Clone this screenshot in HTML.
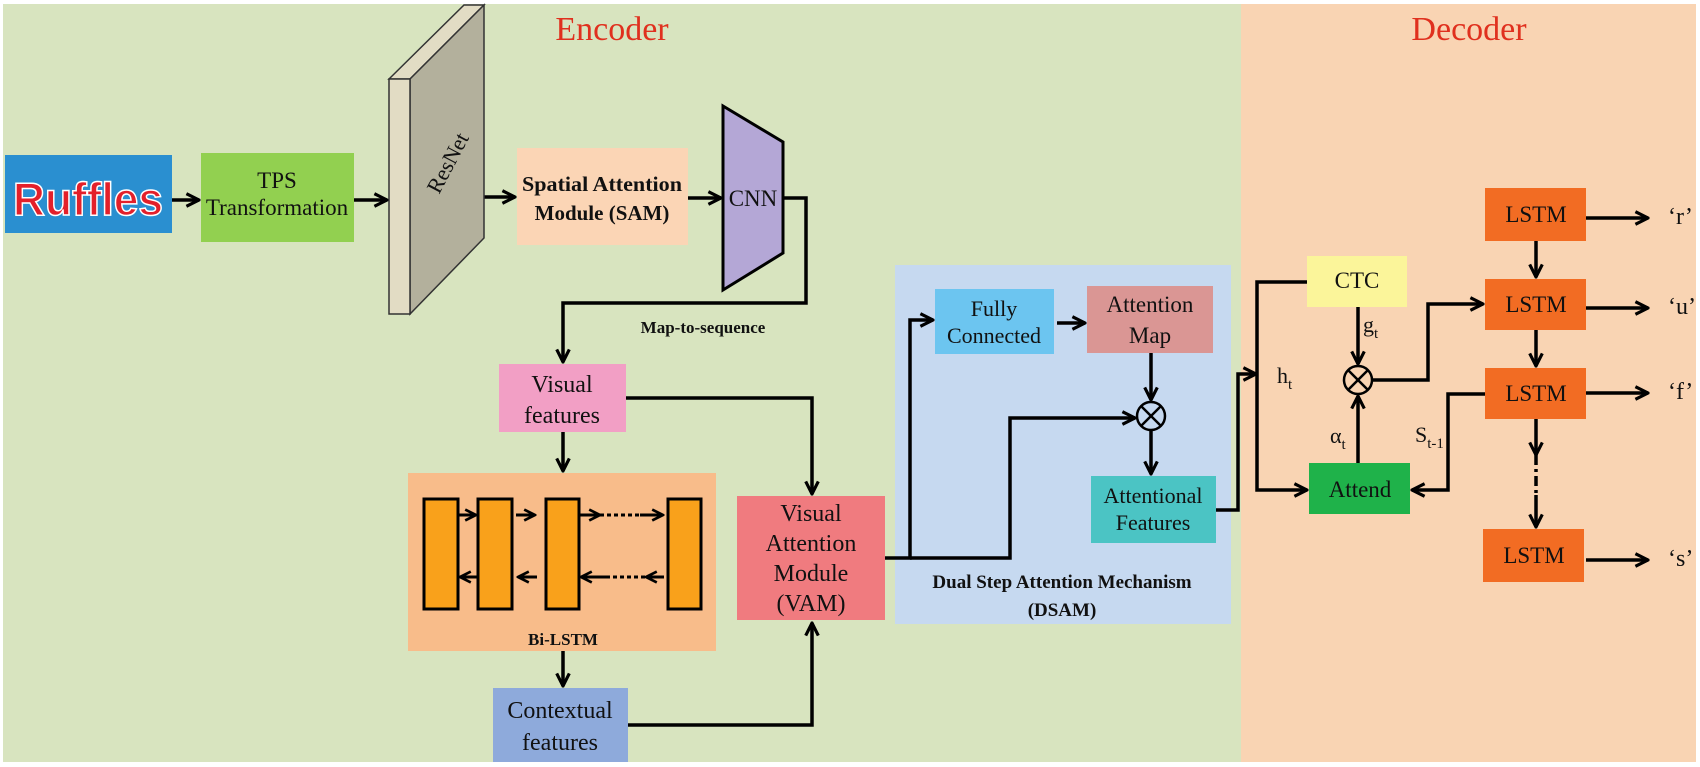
<!DOCTYPE html>
<html><head><meta charset="utf-8"><style>
html,body{margin:0;padding:0;background:#fff}
svg{display:block}
text{font-family:"Liberation Serif",serif;fill:#111}
</style></head><body>
<svg width="1700" height="767" viewBox="0 0 1700 767" xmlns="http://www.w3.org/2000/svg">
<defs>
<marker id="a" viewBox="0 0 10 10" refX="9" refY="5" markerWidth="4.5" markerHeight="4.5" orient="auto-start-reverse"><path d="M1,1 L9,5 L1,9" fill="none" stroke="#000" stroke-width="2"/></marker>
</defs>
<rect x="0" y="0" width="1700" height="767" fill="#fff"/>
<rect x="3" y="4" width="1239" height="758" fill="#d8e4bf"/>
<rect x="1241" y="4" width="455" height="758" fill="#f9d4b3"/>
<text x="612" y="40" font-size="34" text-anchor="middle" style="fill:#e0301e">Encoder</text>
<text x="1469" y="40" font-size="34" text-anchor="middle" style="fill:#e0301e">Decoder</text>

<!-- Ruffles -->
<rect x="5" y="155" width="167" height="78" fill="#2a8fd0"/>
<text x="88" y="215" font-size="46" font-weight="bold" text-anchor="middle" textLength="150" lengthAdjust="spacingAndGlyphs" style="fill:#e3202a;stroke:#fff;stroke-width:1.5;font-family:'Liberation Sans',sans-serif">Ruffles</text>

<!-- DSAM background first -->
<rect x="895" y="265" width="336" height="359" fill="#c6d9f0"/>

<g stroke="#000" stroke-width="3.5" fill="none" marker-end="url(#a)">
<line x1="172" y1="200" x2="199" y2="200"/>
<line x1="354" y1="200" x2="387" y2="200"/>
<line x1="484" y1="197" x2="515" y2="197"/>
<line x1="688" y1="198" x2="721" y2="198"/>
<polyline points="783,198 806,198 806,303 563,303 563,362"/>
<polyline points="626,398 812,398 812,494"/>
<line x1="563" y1="432" x2="563" y2="471"/>
<line x1="563" y1="651" x2="563" y2="686"/>
<polyline points="628,725 812,725 812,623"/>
<polyline points="885,558 910,558 910,320 933,320"/>
<polyline points="910,558 1010,558 1010,418 1135,418"/>
<line x1="1057" y1="323" x2="1085" y2="323"/>
<line x1="1151" y1="353" x2="1151" y2="400"/>
<line x1="1151" y1="431" x2="1151" y2="474"/>
<polyline points="1216,510 1238,510 1238,374 1256,374"/>
<polyline points="1307,282 1257,282 1257,490 1307,490"/>
<line x1="1358" y1="307" x2="1358" y2="364"/>
<line x1="1358" y1="463" x2="1358" y2="396"/>
<polyline points="1372,380 1428,380 1428,304 1483,304"/>
<polyline points="1485,394 1448,394 1448,490 1412,490"/>
<line x1="1536" y1="241" x2="1536" y2="277"/>
<line x1="1536" y1="330" x2="1536" y2="366"/>
<line x1="1536" y1="419" x2="1536" y2="455"/>
<line x1="1536" y1="495" x2="1536" y2="527"/>
<line x1="1586" y1="218" x2="1648" y2="218"/>
<line x1="1586" y1="308" x2="1648" y2="308"/>
<line x1="1586" y1="393" x2="1648" y2="393"/>
<line x1="1586" y1="560" x2="1648" y2="560"/>
</g>
<line x1="1536" y1="455" x2="1536" y2="495" stroke="#000" stroke-width="3.5" stroke-dasharray="10,4,3,4"/>

<!-- TPS -->
<rect x="201" y="153" width="153" height="89" fill="#92d050"/>
<text x="277" y="188" font-size="23" text-anchor="middle">TPS</text>
<text x="277" y="215" font-size="23" text-anchor="middle">Transformation</text>

<!-- ResNet -->
<polygon points="389,79 464,5 484,5 410,79" fill="#e2dcc4" stroke="#333" stroke-width="1.5"/>
<polygon points="410,79 484,5 484,238 410,314" fill="#b3b09c" stroke="#333" stroke-width="1.5"/>
<rect x="389" y="79" width="21" height="235" fill="#e2dcc4" stroke="#333" stroke-width="1.5"/>
<text x="448" y="170" font-size="22" text-anchor="middle" transform="rotate(-62 448 163)">ResNet</text>

<!-- SAM -->
<rect x="517" y="148" width="171" height="97" fill="#fbd5b5"/>
<text x="602" y="191" font-size="21" font-weight="bold" text-anchor="middle" textLength="160" lengthAdjust="spacingAndGlyphs">Spatial Attention</text>
<text x="602" y="220" font-size="21" font-weight="bold" text-anchor="middle">Module (SAM)</text>

<!-- CNN -->
<polygon points="723,106 783,142 783,253 723,290" fill="#b4a7d6" stroke="#000" stroke-width="3"/>
<text x="753" y="206" font-size="23" text-anchor="middle">CNN</text>
<text x="703" y="333" font-size="17" font-weight="bold" text-anchor="middle">Map-to-sequence</text>

<!-- Visual features -->
<rect x="499" y="364" width="127" height="68" fill="#f29fc5"/>
<text x="562" y="392" font-size="24" text-anchor="middle">Visual</text>
<text x="562" y="423" font-size="24" text-anchor="middle">features</text>

<!-- Bi-LSTM -->
<rect x="408" y="473" width="308" height="178" fill="#f8bc8a"/>
<g fill="#f9a11b" stroke="#000" stroke-width="3">
<rect x="424" y="499" width="34" height="110"/>
<rect x="478" y="499" width="34" height="110"/>
<rect x="546" y="499" width="33" height="110"/>
<rect x="668" y="499" width="33" height="110"/>
</g>
<g stroke="#000" stroke-width="3" fill="none" marker-end="url(#a)">
<line x1="458" y1="515" x2="476" y2="515"/>
<line x1="516" y1="515" x2="535" y2="515"/>
<line x1="579" y1="515" x2="600" y2="515"/>
<line x1="640" y1="515" x2="663" y2="515"/>
<line x1="478" y1="577" x2="460" y2="577"/>
<line x1="537" y1="577" x2="518" y2="577"/>
<line x1="606" y1="577" x2="581" y2="577"/>
<line x1="664" y1="577" x2="646" y2="577"/>
</g>
<line x1="600" y1="515" x2="640" y2="515" stroke="#000" stroke-width="3" stroke-dasharray="4,3"/>
<line x1="606" y1="577" x2="646" y2="577" stroke="#000" stroke-width="3" stroke-dasharray="4,3"/>
<text x="563" y="645" font-size="17" font-weight="bold" text-anchor="middle">Bi-LSTM</text>

<!-- Contextual -->
<rect x="493" y="688" width="135" height="74" fill="#8eaadb"/>
<text x="560" y="718" font-size="24" text-anchor="middle">Contextual</text>
<text x="560" y="750" font-size="24" text-anchor="middle">features</text>

<!-- VAM -->
<rect x="737" y="496" width="148" height="124" fill="#f07b7f"/>
<text x="811" y="521" font-size="24" text-anchor="middle">Visual</text>
<text x="811" y="551" font-size="24" text-anchor="middle">Attention</text>
<text x="811" y="581" font-size="24" text-anchor="middle">Module</text>
<text x="811" y="611" font-size="24" text-anchor="middle">(VAM)</text>

<!-- DSAM contents -->
<rect x="935" y="289" width="119" height="65" fill="#6cc5f0"/>
<text x="994" y="316" font-size="22" text-anchor="middle">Fully</text>
<text x="994" y="343" font-size="22" text-anchor="middle">Connected</text>
<rect x="1087" y="286" width="126" height="67" fill="#da9694"/>
<text x="1150" y="312" font-size="23" text-anchor="middle">Attention</text>
<text x="1150" y="343" font-size="23" text-anchor="middle">Map</text>
<rect x="1091" y="476" width="125" height="67" fill="#4bc4c4"/>
<text x="1153" y="503" font-size="22" text-anchor="middle">Attentional</text>
<text x="1153" y="530" font-size="22" text-anchor="middle">Features</text>
<text x="1062" y="588" font-size="19" font-weight="bold" text-anchor="middle">Dual Step Attention Mechanism</text>
<text x="1062" y="616" font-size="19" font-weight="bold" text-anchor="middle">(DSAM)</text>
<g fill="none" stroke="#000" stroke-width="2.5">
<circle cx="1151" cy="416" r="14"/>
<line x1="1141" y1="406" x2="1161" y2="426"/><line x1="1161" y1="406" x2="1141" y2="426"/>
<circle cx="1358" cy="380" r="14"/>
<line x1="1348" y1="370" x2="1368" y2="390"/><line x1="1368" y1="370" x2="1348" y2="390"/>
</g>

<!-- Decoder -->
<rect x="1307" y="256" width="100" height="51" fill="#fbf59a"/>
<text x="1357" y="288" font-size="23" text-anchor="middle">CTC</text>
<rect x="1309" y="463" width="101" height="51" fill="#1fb24a"/>
<text x="1360" y="497" font-size="23" text-anchor="middle">Attend</text>
<text x="1277" y="383" font-size="22">h<tspan font-size="15" dy="6">t</tspan></text>
<text x="1363" y="332" font-size="22">g<tspan font-size="15" dy="6">t</tspan></text>
<text x="1330" y="443" font-size="22">α<tspan font-size="15" dy="6">t</tspan></text>
<text x="1415" y="442" font-size="22">S<tspan font-size="15" dy="6">t-1</tspan></text>
<g fill="#f26c23">
<rect x="1485" y="188" width="101" height="53"/>
<rect x="1485" y="279" width="101" height="51"/>
<rect x="1485" y="368" width="101" height="51"/>
<rect x="1483" y="529" width="101" height="53"/>
</g>
<g font-size="23" text-anchor="middle">
<text x="1536" y="222">LSTM</text>
<text x="1536" y="312">LSTM</text>
<text x="1536" y="401">LSTM</text>
<text x="1534" y="563">LSTM</text>
</g>
<g font-size="24">
<text x="1668" y="224">‘r’</text>
<text x="1668" y="314">‘u’</text>
<text x="1668" y="399">‘f’</text>
<text x="1668" y="566">‘s’</text>
</g>
</svg>
</body></html>
